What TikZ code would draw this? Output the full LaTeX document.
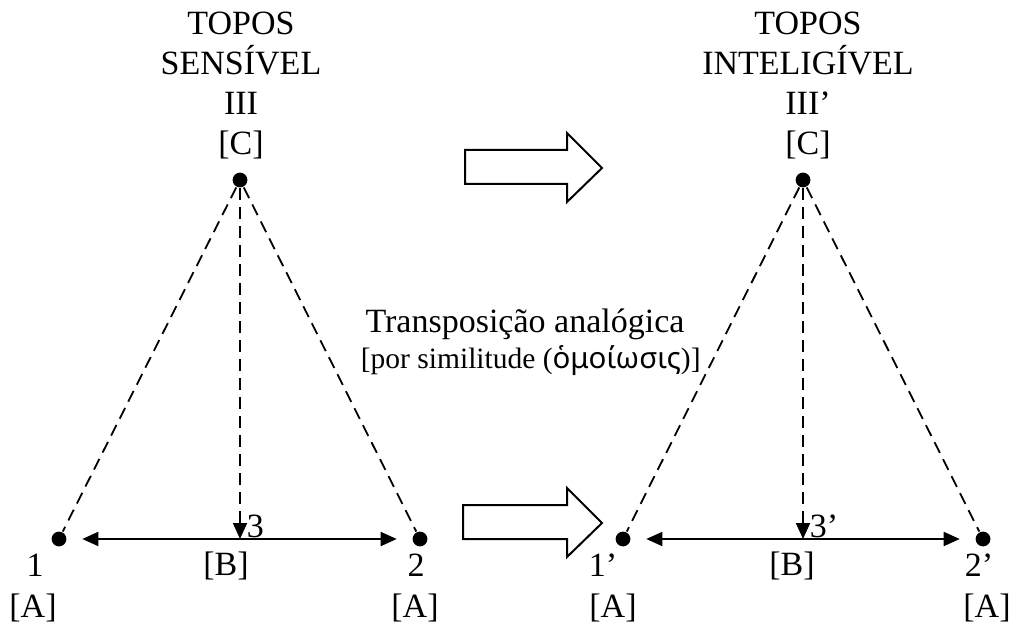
\documentclass[tikz,border=0pt]{standalone}
\usepackage{fontspec}
\setmainfont{Liberation Serif}
\newfontfamily\grk{Noto Sans}
\usetikzlibrary{positioning, arrows.meta}

\begin{document}
\begin{tikzpicture}[x=0.5pt,y=-0.5pt,line width=0.9pt,
    >={Triangle[length=8pt,width=7pt]},
    dot/.style={circle,fill,inner sep=0pt,minimum size=7.4pt},
    lbl/.style={inner sep=0pt,anchor=base,font=\fontsize{17}{20}\selectfont},
    ttl/.style={lbl,align=center},
    link/.style={dash pattern=on 6pt off 3.5pt},
    bigarrow/.style={line width=1pt,fill=white}]
  \useasboundingbox (0,0) rectangle (1010,624);

  % topos sensivel
  \node[dot] (cs) at (240,180) {};
  \node[dot] (as1) at (59,539) {};
  \node[dot] (as2) at (420,539) {};
  \coordinate (bs) at (240,539);
  \node[ttl] (ts) at (241,155) {TOPOS\\SENSÍVEL\\III\\{[C]}};
  \node[lbl] (ns1) at (35,576) {1};
  \node[lbl] (ls1) at (33,617) {[A]};
  \node[lbl] (ns2) at (416,576) {2};
  \node[lbl] (ls2) at (415,617) {[A]};
  \node[lbl] (lbs) at (226,575) {[B]};
  \node[lbl,anchor=base west] (n3s) at (246,537) {3};

  \path[link] (cs) edge (as1)
              (cs) edge (as2)
              (cs) edge[->] (bs);
  \draw[<->,shorten <=7.5pt,shorten >=7.5pt] (as1) -- (as2);

  % topos inteligivel
  \node[dot] (ci) at (803,180) {};
  \node[dot] (ai1) at (623,539) {};
  \node[dot] (ai2) at (983,539) {};
  \coordinate (bi) at (803,539);
  \node[ttl] (ti) at (808,155) {TOPOS\\INTELIGÍVEL\\III’\\{[C]}};
  \node[lbl] (ni1) at (603,576) {1’};
  \node[lbl] (li1) at (613,617) {[A]};
  \node[lbl] (ni2) at (979,576) {2’};
  \node[lbl] (li2) at (987,617) {[A]};
  \node[lbl] (lbi) at (792,575) {[B]};
  \node[lbl,anchor=base west] (n3i) at (809,537) {3’};

  \path[link] (ci) edge (ai1)
              (ci) edge (ai2)
              (ci) edge[->] (bi);
  \draw[<->,shorten <=7.5pt,shorten >=7.5pt] (ai1) -- (ai2);

  % transposicao
  \draw[bigarrow] (465,150) -- (567,150) -- (567,133) -- (602,168)
    -- (567,202) -- (567,184) -- (465,184) -- cycle;
  \draw[bigarrow] (463,505) -- (567,505) -- (567,488) -- (602,523)
    -- (567,557) -- (567,539) -- (463,539) -- cycle;
  \node[lbl] (tr) at (525,333) {Transposição analógica};
  \node[lbl,anchor=base west,font=\fontsize{14.75}{18}\selectfont] (sim)
    at (360,369) {[por similitude ({\grk ὁμοίωσις})]};
\end{tikzpicture}
\end{document}
